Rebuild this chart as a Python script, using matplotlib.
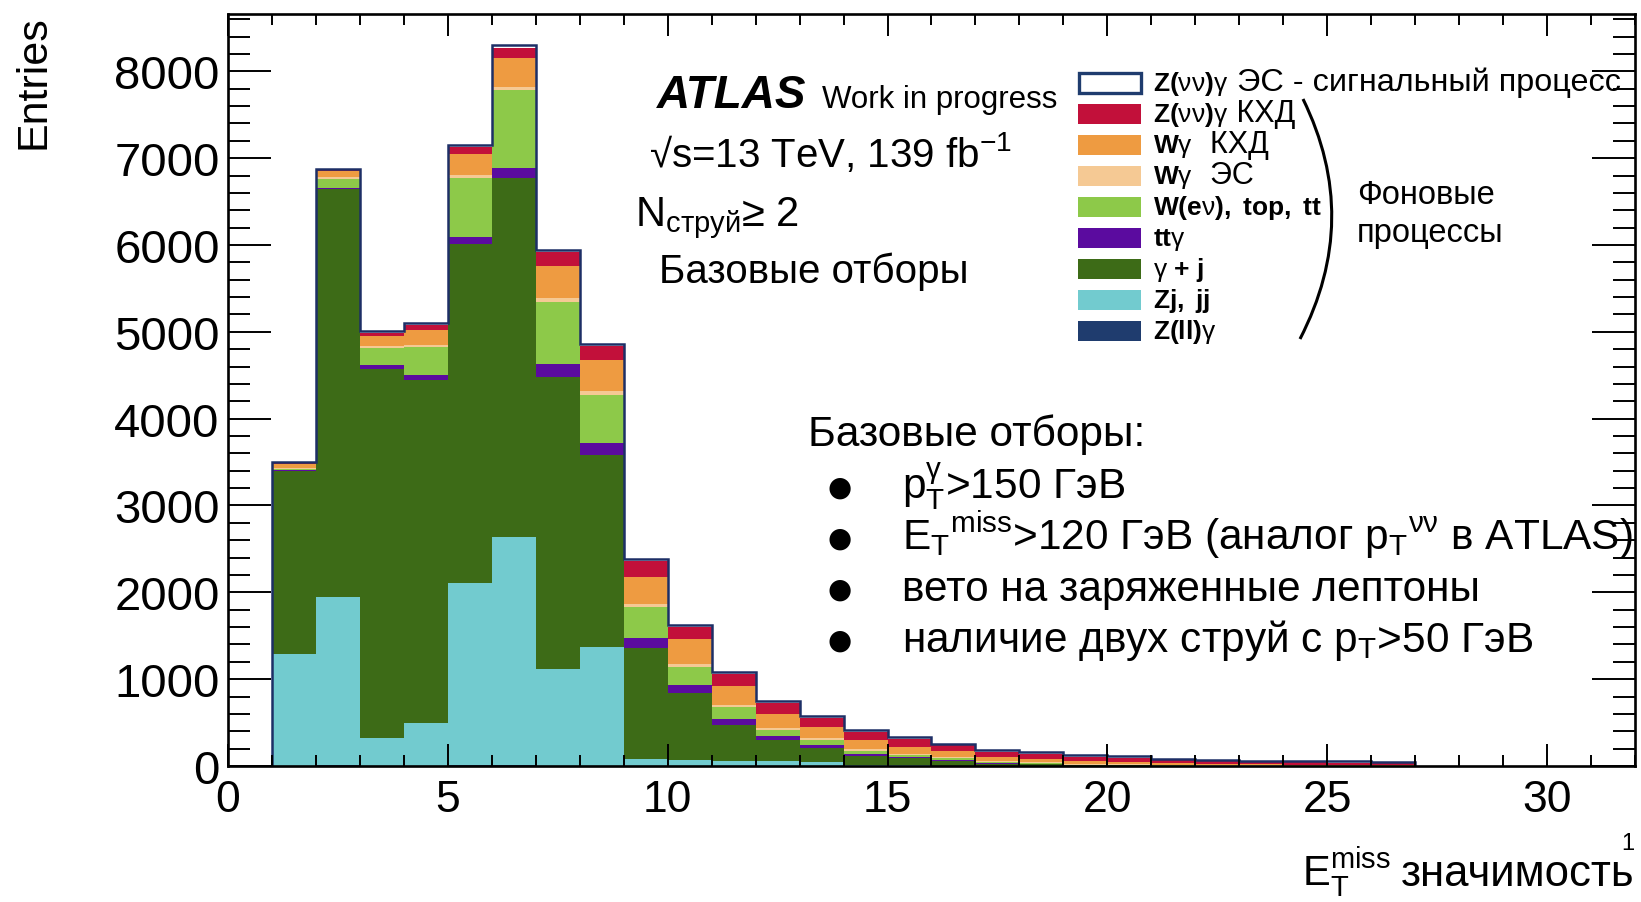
import matplotlib.pyplot as plt
import numpy as np
from matplotlib.patches import Rectangle, PathPatch
from matplotlib.path import Path

plt.rcParams['font.family'] = ['Liberation Sans', 'DejaVu Sans']
plt.rcParams['mathtext.fontset'] = 'custom'
plt.rcParams['mathtext.rm'] = 'Liberation Sans'
plt.rcParams['mathtext.it'] = 'Liberation Sans:italic'
plt.rcParams['mathtext.bf'] = 'Liberation Sans:bold'

# bins of E_T^miss significance, width 1, from 1 to 27
edges = np.arange(1, 28)

# stacked backgrounds, bottom to top
zllg = [5, 6, 4, 4, 6, 7, 5, 5, 3, 2, 2, 1, 1, 1, 0, 0, 0, 0, 0, 0, 0, 0, 0, 0, 0, 0]
zj_jj = [1285, 1938, 318, 496, 2105, 2633, 1115, 1360, 81, 67, 57, 57, 44, 9, 8, 5, 2, 2, 1, 1, 0, 0, 0, 0, 0, 0]
gamma_j = [2110, 4700, 4250, 3950, 3895, 4130, 3355, 2215, 1279, 776, 414, 242, 166, 105, 80, 55, 25, 18, 8, 6, 3, 2, 2, 1, 1, 1]
ttgamma = [5, 10, 45, 50, 83, 120, 150, 135, 115, 84, 66, 46, 31, 19, 10, 8, 5, 3, 1, 1, 1, 0, 0, 0, 0, 0]
wenu_top_tt = [15, 110, 195, 322, 678, 890, 720, 560, 358, 215, 142, 69, 58, 43, 25, 23, 12, 10, 5, 4, 3, 2, 2, 1, 1, 1]
wgamma_ew = [10, 15, 25, 28, 39, 44, 40, 44, 26, 27, 23, 27, 19, 15, 15, 12, 10, 10, 8, 7, 5, 4, 3, 3, 2, 2]
wgamma_qcd = [50, 70, 115, 167, 239, 330, 375, 360, 319, 288, 219, 161, 134, 108, 84, 65, 54, 40, 35, 32, 20, 16, 12, 10, 9, 7]
znng_qcd = [10, 15, 35, 60, 85, 115, 160, 160, 181, 146, 134, 119, 96, 96, 89, 69, 54, 55, 45, 45, 35, 32, 27, 26, 24, 20]
# signal drawn as an outline on top of the stack
znng_ew = [10, 16, 19, 23, 26, 30, 27, 22, 19, 23, 27, 27, 27, 19, 19, 19, 27, 22, 20, 18, 17, 17, 15, 15, 15, 14]

bkg_values = [zllg, zj_jj, gamma_j, ttgamma, wenu_top_tt, wgamma_ew, wgamma_qcd, znng_qcd]
bkg_colors = ['#1f3c6e', '#72cbcf', '#3d6b17', '#5b0b9f', '#8dc949', '#f5c994', '#ee9b41', '#c2103a']
signal_color = '#1d2f66'

# legend: ROOT-style process name + Russian note
legend_names = [
    r"$\mathbf{Z(}\mathrm{\nu\nu}\mathbf{)}\mathrm{\gamma}$",
    r"$\mathbf{Z(}\mathrm{\nu\nu}\mathbf{)}\mathrm{\gamma}$",
    r"$\mathbf{W}\mathrm{\gamma}$",
    r"$\mathbf{W}\mathrm{\gamma}$",
    r"$\mathbf{W(e}\mathrm{\nu}\mathbf{),\ top,\ tt}$",
    r"$\mathbf{tt}\mathrm{\gamma}$",
    r"$\mathrm{\gamma}\ \mathbf{+\ j}$",
    r"$\mathbf{Zj,\ jj}$",
    r"$\mathbf{Z(ll)}\mathrm{\gamma}$",
]
legend_notes = [" ЭС - сигнальный процесс", " КХД", "  КХД", "  ЭС", "", "", "", "", ""]
note_sizes = [23.3, 22, 22, 22, 22, 22, 22, 22, 22]
legend_colors = [None, '#c2103a', '#ee9b41', '#f5c994', '#8dc949', '#5b0b9f', '#3d6b17', '#72cbcf', '#1f3c6e']

cuts_title = "Базовые отборы:"
cuts = [
    r"$\mathrm{p_T^{\gamma}}$>150 ГэВ",
    r"$\mathrm{E_T{}^{miss}}$>120 ГэВ (аналог $\mathrm{p_T{}^{\nu\nu}}$ в ATLAS)",
    "вето на заряженные лептоны",
    r"наличие двух струй с $\mathrm{p_T}$>50 ГэВ",
]

W, H = 1641, 903


def fx(px):
    return px / W


def fy(py):
    return 1 - py / H


fig = plt.figure(figsize=(W / 100, H / 100), dpi=100)
ax = fig.add_axes([fx(228), fy(767), fx(1635) - fx(228), fy(15) - fy(767)])

bottom = np.zeros(len(edges) - 1)
for vals, c in zip(bkg_values, bkg_colors):
    top = bottom + np.array(vals)
    ax.stairs(top, edges, baseline=bottom, fill=True, color=c, lw=0)
    bottom = top
ax.stairs(bottom + np.array(znng_ew), edges, baseline=0, fill=False, color=signal_color, lw=1.8)

ax.set_xlim(0, 32)
ax.set_ylim(0, 8660)
ax.set_xticks(np.arange(0, 31, 5))
ax.set_xticks(np.arange(0, 33, 1), minor=True)
ax.set_yticks(np.arange(0, 8001, 1000))
ax.set_yticks(np.arange(0, 8601, 200), minor=True)
for s in ax.spines.values():
    s.set_linewidth(1.9)
ax.tick_params(axis='both', which='both', direction='in', top=True, right=True, width=1.4)
ax.tick_params(axis='x', which='major', length=16, pad=9, labelsize=32)
ax.tick_params(axis='x', which='minor', length=8)
ax.tick_params(axis='y', which='major', length=31, pad=6, labelsize=34)
ax.tick_params(axis='y', which='minor', length=15.5)

fig.text(fx(34), fy(15), 'Entries', rotation=90, ha='center', va='top', fontsize=31)

# axis title, bottom right
fig.text(fx(1302), fy(885), r"$\mathrm{E_T^{miss}}$", ha='left', va='baseline', fontsize=30)
fig.text(fx(1401), fy(886), "значимость", ha='left', va='baseline', fontsize=31.5)
fig.text(fx(1628), fy(850), "1", ha='center', va='baseline', fontsize=17)

# ATLAS label block
fig.text(fx(657), fy(108), 'ATLAS', fontweight='bold', fontstyle='italic', fontsize=33, va='baseline')
fig.text(fx(822), fy(108), 'Work in progress', fontsize=22.5, va='baseline')
fig.text(fx(649), fy(167), r"√s=13 TeV, 139 fb$^{-1}$", fontsize=29, va='baseline')
fig.text(fx(635), fy(226), r"N$_{\mathrm{струй}}$≥ 2", fontsize=30, va='baseline')
fig.text(fx(659), fy(283), "Базовые отборы", fontsize=29, va='baseline')

# legend
for i, (name, note, c) in enumerate(zip(legend_names, legend_notes, legend_colors)):
    yc = 84 + 31 * i
    if c is None:
        box = Rectangle((fx(1079), fy(yc + 10)), fx(1141) - fx(1079), fy(yc - 10) - fy(yc + 10),
                        transform=fig.transFigure, facecolor='white', edgecolor='#1f3c6e', lw=2.4)
    else:
        box = Rectangle((fx(1078), fy(yc + 10)), fx(1141) - fx(1078), fy(yc - 10) - fy(yc + 10),
                        transform=fig.transFigure, facecolor=c, edgecolor='none')
    fig.patches.append(box)
    t = fig.text(fx(1153), fy(yc + 7), name, fontsize=19, va='baseline', ha='left')
    if note:
        ax.annotate(note, xy=(1, 0), xycoords=t, xytext=(0, 0), textcoords='offset points',
                    fontsize=note_sizes[i], va='bottom', ha='left', annotation_clip=False)

bracket = Path([(fx(1303), fy(100)), (fx(1362), fy(220)), (fx(1300), fy(340))],
               [Path.MOVETO, Path.CURVE3, Path.CURVE3])
fig.patches.append(PathPatch(bracket, transform=fig.transFigure, fill=False, lw=2.2, color='black'))
fig.text(fx(1357), fy(195), "Фоновые", fontsize=23.5, va='center')
fig.text(fx(1357), fy(234), "процессы", fontsize=23.5, va='center')

# selection summary
fig.text(fx(808), fy(446), cuts_title, fontsize=30.5, va='baseline')
for i, line in enumerate(cuts):
    yb = 499 + 51 * i
    fig.text(fx(840), fy(yb - 11), "●", family='DejaVu Sans', fontsize=20, ha='center', va='center')
    fig.text(fx(902), fy(yb), line, fontsize=30.5, va='baseline')

fig.savefig('out.png', dpi=100)
